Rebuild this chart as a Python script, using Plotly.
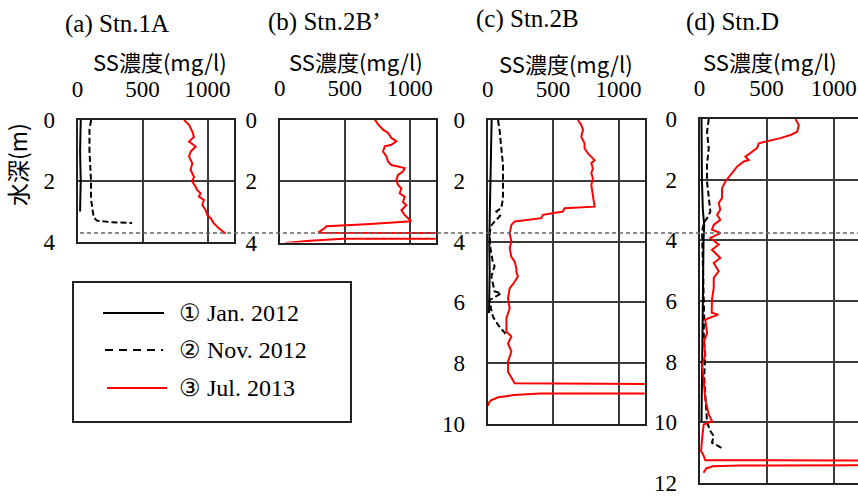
import plotly.graph_objects as go

# ---------------- data (depth in m, SS in mg/l) ----------------
station_titles = ["(a) Stn.1A", "(b) Stn.2B\u2019", "(c) Stn.2B", "(d) Stn.D"]
series_names = ["\u2460 Jan. 2012", "\u2461 Nov. 2012", "\u2462 Jul. 2013"]
x_ticks = [0, 500, 1000]
x_tick_text = ["0", "500", "1000"]
x_title = "SS\u6fc3\u5ea6(mg/l)"
y_title = "\u6c34\u6df1(m)"

a_jan_depth = [0, 0.5, 1.0, 1.5, 2.0, 2.5, 3.0]
a_jan_ss = [25, 22, 20, 22, 25, 22, 20]
a_nov_depth = [0, 0.3, 1.0, 2.0, 2.6, 3.0, 3.2, 3.3, 3.35, 3.38]
a_nov_ss = [105, 92, 92, 104, 104, 117, 125, 150, 260, 420]
a_jul_depth = [0, 0.16, 0.38, 0.55, 0.71, 0.87, 1.04, 1.2, 1.42, 1.64, 1.86, 2.02,
               2.19, 2.3, 2.4, 2.51, 2.62, 2.79, 2.95, 3.11, 3.22, 3.39, 3.55, 3.72]
a_jul_ss = [819, 858, 883, 896, 858, 909, 870, 858, 883, 870, 896, 883,
            909, 921, 947, 934, 972, 960, 985, 998, 1024, 1049, 1087, 1139]

b_jul_depth = [0, 0.16, 0.33, 0.44, 0.6, 0.71, 0.82, 0.87, 1.04, 1.2, 1.37, 1.48,
               1.53, 1.58, 1.69, 1.8, 1.97, 2.13, 2.24, 2.4, 2.51, 2.68, 2.79, 2.95,
               3.11, 3.31, 3.4, 3.47, 3.55, 3.68, 3.72, 3.86, 3.88, 3.94, 4.02]
b_jul_ss = [731, 757, 795, 834, 859, 897, 859, 808, 795, 821, 834, 859,
            910, 962, 948, 910, 897, 910, 936, 923, 962, 948, 974, 936,
            962, 1012, 700, 360, 340, 297, 3000, 3000, 488, 233, 41]

c_jan_depth = [0, 1, 2, 3, 3.5, 4, 5, 6, 6.35]
c_jan_ss = [30, 25, 20, 15, 10, 12, 15, 12, 10]
c_nov_depth = [0, 0.38, 0.93, 1.48, 2.03, 2.58, 2.9, 3.01, 3.15, 3.34, 3.45, 3.7,
               4.2, 4.7, 4.8, 5.15, 5.64, 5.7, 5.8, 5.92, 6.2, 6.47, 6.74, 7.07]
c_nov_ss = [79, 92, 104, 117, 117, 117, 104, 66, 95, 53, 30, 15,
            20, 40, 53, 28, 53, 104, 66, 15, 25, 40, 79, 143]
c_jul_depth = [0, 0.16, 0.33, 0.55, 0.77, 0.93, 1.1, 1.32, 1.42, 1.59, 1.75, 1.92,
               2.14, 2.47, 2.85, 2.9, 3.01, 3.12, 3.23, 3.34, 3.45, 3.73, 4.0, 4.22,
               4.5, 4.66, 4.88, 4.99, 5.15, 5.32, 5.54, 5.86, 6.2, 6.52, 6.96, 7.12,
               7.35, 7.62, 7.95, 8.28, 8.66, 8.72, 8.98, 9.0, 9.05, 9.12, 9.22, 9.3, 9.4]
c_jul_ss = [689, 715, 728, 715, 740, 740, 766, 817, 792, 804, 792, 804,
            792, 804, 817, 588, 575, 422, 410, 206, 181, 168, 181, 168,
            181, 206, 219, 219, 231, 206, 168, 155, 168, 143, 143, 181,
            155, 181, 155, 155, 206, 3000, 3000, 400, 200, 80, 25, 10, 3]

d_jan_depth = [0, 1, 2, 3, 3.5, 4, 5, 6, 7, 8, 9, 10]
d_jan_ss = [15, 15, 18, 25, 35, 30, 28, 25, 22, 20, 18, 15]
d_nov_depth = [0, 0.42, 0.96, 1.51, 2.06, 2.61, 3.05, 3.27, 3.43, 3.71, 4.5, 5.5,
               6.5, 7.05, 7.82, 8.5, 9.13, 9.6, 10.0, 10.29, 10.45, 10.67, 10.85]
d_nov_ss = [69, 56, 69, 56, 56, 69, 81, 56, 31, 19, 25, 30,
            35, 31, 43, 35, 43, 50, 56, 81, 106, 93, 168]
d_jul_depth = [0, 0.2, 0.42, 0.53, 0.63, 0.72, 0.8, 0.96, 1.07, 1.24, 1.35, 1.4,
               1.57, 1.84, 2.06, 2.28, 2.61, 2.77, 2.99, 3.16, 3.32, 3.49, 3.65, 3.76,
               3.92, 4.14, 4.31, 4.58, 4.75, 5.02, 5.24, 5.57, 5.95, 6.39, 6.45, 6.61,
               7.05, 7.38, 7.76, 8.15, 8.59, 9.24, 9.74, 9.96, 10.07, 10.56, 10.94, 11.1,
               11.25, 11.27, 11.41, 11.42, 11.45, 11.52, 11.66]
d_jul_ss = [715, 740, 728, 678, 603, 504, 442, 429, 392, 342, 367, 330,
            280, 230, 193, 168, 168, 143, 155, 131, 155, 106, 93, 155,
            81, 143, 93, 155, 106, 143, 106, 106, 93, 91, 140, 43,
            56, 31, 43, 19, 31, 43, 69, 93, 31, 19, 12, 31,
            43, 3000, 3000, 300, 100, 50, 30]

panel_series = [
    [(a_jan_ss, a_jan_depth, 0), (a_nov_ss, a_nov_depth, 1), (a_jul_ss, a_jul_depth, 2)],
    [(b_jul_ss, b_jul_depth, 2)],
    [(c_jan_ss, c_jan_depth, 0), (c_nov_ss, c_nov_depth, 1), (c_jul_ss, c_jul_depth, 2)],
    [(d_jan_ss, d_jan_depth, 0), (d_nov_ss, d_nov_depth, 1), (d_jul_ss, d_jul_depth, 2)],
]

# ---------------- layout geometry (pixels) ----------------
W, H = 858, 497
def px(x): return x / W
def py(y): return 1 - y / H

panels = [
    dict(x0=77.5, x1=233.5, y0=120, y1=242, xmax=1200, ymax=4),
    dict(x0=279.7, x1=435.7, y0=119.5, y1=242.5, xmax=1200, ymax=4),
    dict(x0=487.7, x1=644.7, y0=120, y1=424, xmax=1200, ymax=10),
    dict(x0=699.5, x1=858, y0=119, y1=483, xmax=1181, ymax=12),
]
title_pos = [(117, 24), (324, 22), (527, 19), (732, 22)]
xtitle_pos = [(160, 61), (356, 61), (566, 63), (770, 61)]

line_styles = [
    dict(color="black", width=2),
    dict(color="black", width=2, dash="6px,3px"),
    dict(color="#ff0000", width=2),
]

serif = "Liberation Serif, Times New Roman, serif"
sans = "Noto Sans CJK JP"
grid_c = "#3a3a3a"

fig = go.Figure()
layout = dict(
    template="none",
    width=W, height=H, margin=dict(l=0, r=0, t=0, b=0, autoexpand=False),
    paper_bgcolor="white", plot_bgcolor="white", showlegend=False,
)

for i, (p, series) in enumerate(zip(panels, panel_series)):
    n = "" if i == 0 else str(i + 1)
    for xs, ys, k in series:
        fig.add_trace(go.Scatter(x=xs, y=ys, mode="lines", line=line_styles[k],
                                 name=series_names[k], xaxis="x" + n, yaxis="y" + n,
                                 hoverinfo="skip"))
    layout["xaxis" + n] = dict(
        domain=[px(p["x0"]), px(p["x1"])], range=[0, p["xmax"]], side="top",
        anchor="y" + n, tickvals=x_ticks, ticktext=x_tick_text, automargin=False,
        showgrid=True, gridcolor=grid_c, gridwidth=1.5, zeroline=False,
        showline=True, mirror=True, linecolor="#222", linewidth=2,
        ticks="", ticklabelstandoff=12,
        tickfont=dict(family=serif, size=23, color="black"),
    )
    layout["yaxis" + n] = dict(
        domain=[py(p["y1"]), py(p["y0"])], range=[p["ymax"], 0], dtick=2,
        anchor="x" + n, automargin=False, showgrid=True, gridcolor=grid_c, gridwidth=1.5,
        zeroline=False, showline=True, mirror=(i != 3), linecolor="#222", linewidth=2,
        ticks="", ticklabelstandoff=16,
        tickfont=dict(family=serif, size=23, color="black"),
    )

ann = []
for t, (x, y) in zip(station_titles, title_pos):
    ann.append(dict(text=t, x=px(x), y=py(y), xref="paper", yref="paper", showarrow=False,
                    xanchor="center", yanchor="middle",
                    font=dict(family=serif, size=25, color="black")))
for x, y in xtitle_pos:
    ann.append(dict(text=x_title, x=px(x), y=py(y), xref="paper", yref="paper", showarrow=False,
                    xanchor="center", yanchor="middle",
                    font=dict(family=sans, size=22, color="black")))
ann.append(dict(text=y_title, x=px(17), y=py(165), xref="paper", yref="paper", showarrow=False,
                textangle=-90, xanchor="center", yanchor="middle",
                font=dict(family=sans, size=23, color="black")))

# legend (drawn as a framed box)
legend_rows = [313, 350, 388]
legend_lines = [(103, 164), (105, 163), (107, 167)]
shapes = [
    dict(type="rect", xref="paper", yref="paper", x0=px(73), x1=px(351), y0=py(422), y1=py(282),
         line=dict(color="#222", width=2), fillcolor="white", layer="above"),
    dict(type="line", xref="paper", yref="paper", x0=px(80), x1=1, y0=py(233), y1=py(233),
         line=dict(color="#666", width=1.5, dash="4px,3px"), layer="above"),
]
legend_dash = [None, "8px,6px", None]
for k, (yy, (lx0, lx1)) in enumerate(zip(legend_rows, legend_lines)):
    st = dict(color=line_styles[k]["color"], width=2)
    if legend_dash[k]:
        st["dash"] = legend_dash[k]
    shapes.append(dict(type="line", xref="paper", yref="paper", x0=px(lx0), x1=px(lx1),
                       y0=py(yy), y1=py(yy), line=st, layer="above"))
    ann.append(dict(text=series_names[k], x=px(177), y=py(yy), xref="paper", yref="paper",
                    showarrow=False, xanchor="left", yanchor="middle",
                    font=dict(family=serif, size=24, color="black")))

layout["annotations"] = ann
layout["shapes"] = shapes
fig.update_layout(**layout)
fig.write_html("out.html")
